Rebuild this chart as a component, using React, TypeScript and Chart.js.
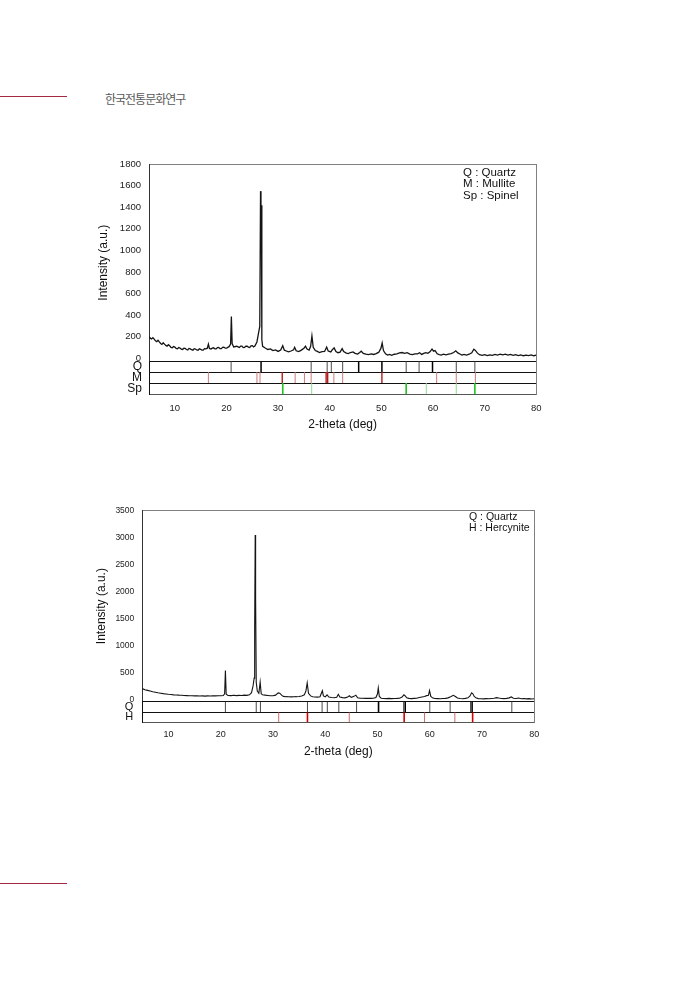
import React, { useEffect, useRef } from "react";
import { Chart, registerables } from "chart.js";

Chart.register(...registerables);

const FONT = "'Liberation Sans', Arial, Helvetica, sans-serif";
Chart.defaults.font.family = FONT;

// ---------- shared ----------
const xTicks = [10, 20, 30, 40, 50, 60, 70, 80];

// ---------- figure 1 ----------
const yTicks1 = [0, 200, 400, 600, 800, 1000, 1200, 1400, 1600, 1800];
const pattern1: [number, number][] = [
  [5, 200], [5.25, 185], [5.5, 178], [5.75, 190], [6, 176], [6.25, 160], [6.5, 152], [6.75, 165], [7, 150], [7.25, 136],
  [7.5, 128], [7.75, 142], [8, 130], [8.25, 118], [8.5, 110], [8.75, 124], [9, 114], [9.25, 100], [9.5, 96], [9.75, 108],
  [10, 102], [10.25, 90], [10.5, 86], [10.75, 98], [11, 94], [11.25, 84], [11.5, 80], [11.75, 92], [12, 90], [12.25, 80],
  [12.5, 76], [12.75, 90], [13, 86], [13.25, 78], [13.5, 74], [13.75, 88], [14, 84], [14.25, 76], [14.5, 72], [14.75, 86],
  [15, 82], [15.25, 74], [15.5, 74], [15.75, 88], [16, 86], [16.3, 92], [16.5, 130], [16.7, 90], [17, 84], [17.25, 92],
  [17.5, 96], [17.75, 86], [18, 86], [18.25, 98], [18.5, 100], [18.75, 88], [19, 88], [19.25, 100], [19.5, 102], [19.75, 92],
  [20, 92], [20.25, 100], [20.5, 106], [20.8, 130], [20.95, 385], [21.1, 135], [21.4, 104], [22, 110], [22.25, 104], [22.5, 98],
  [22.75, 112], [23, 112], [23.25, 98], [23.5, 100], [23.75, 110], [24, 110], [24.25, 102], [24.5, 98], [24.75, 114], [25, 116],
  [25.25, 104], [25.5, 112], [25.9, 150], [26.2, 230], [26.45, 295], [26.6, 1550], [26.68, 1300], [26.75, 1420], [26.85, 170], [27, 110],
  [27.5, 94], [28, 80], [28.5, 86], [29, 70], [29.5, 76], [30, 62], [30.5, 74], [30.9, 115], [31.2, 74], [31.6, 66],
  [32, 58], [32.5, 66], [33, 78], [33.2, 100], [33.5, 68], [34, 60], [34.5, 74], [35, 92], [35.3, 110], [35.6, 84],
  [36, 74], [36.3, 110], [36.55, 205], [36.8, 100], [37.2, 70], [37.6, 62], [38, 52], [38.5, 60], [39, 62], [39.4, 102],
  [39.7, 66], [40.2, 58], [40.5, 78], [40.85, 95], [41.2, 62], [41.6, 50], [42, 56], [42.4, 88], [42.7, 60], [43.2, 46],
  [43.6, 42], [44, 52], [44.5, 58], [44.9, 44], [45.4, 38], [45.8, 52], [46.1, 64], [46.5, 44], [47, 36], [47.5, 32],
  [48, 40], [48.5, 34], [49, 42], [49.5, 55], [49.9, 90], [50.15, 140], [50.4, 70], [50.8, 40], [51.2, 28], [51.6, 34],
  [52, 26], [52.5, 36], [53, 40], [53.5, 48], [54, 52], [54.5, 44], [55, 50], [55.5, 38], [56, 32], [56.5, 40],
  [57, 40], [57.4, 50], [57.8, 34], [58.2, 44], [58.6, 50], [59, 44], [59.4, 58], [59.8, 84], [60.1, 64], [60.4, 70],
  [60.8, 40], [61.2, 32], [61.6, 28], [62, 36], [62.5, 30], [63, 38], [63.5, 42], [64, 52], [64.4, 68], [64.8, 48],
  [65.2, 38], [65.6, 28], [66, 34], [66.5, 28], [67, 36], [67.5, 50], [67.9, 82], [68.2, 72], [68.6, 46], [69, 32],
  [69.5, 26], [70, 32], [70.5, 24], [71, 30], [71.5, 26], [72, 34], [72.5, 28], [73, 36], [73.5, 30], [74, 36],
  [74.5, 28], [75, 34], [75.5, 26], [76, 32], [76.5, 24], [77, 30], [77.5, 22], [78, 28], [78.5, 24], [79, 30],
  [79.5, 22], [80, 28],
];
const quartz1Thin = [20.9, 36.4, 39.5, 40.3, 42.5, 54.8, 57.3, 64.5, 68.1];
const quartz1Bold = [26.7, 45.6, 50.1, 59.9];
const mulliteThin = [16.5, 25.9, 26.5, 33.3, 35.1, 36.4, 40.8, 42.5, 60.7, 64.5, 68.2];
const mulliteBold = [30.8, 39.3, 39.6, 50.1];
const spinelBold = [30.9, 54.8, 68.1];
const spinelLight = [36.5, 58.7, 64.5];
const legend1 = ["Q : Quartz", "M : Mullite", "Sp : Spinel"];

// ---------- figure 2 ----------
const yTicks2 = [0, 500, 1000, 1500, 2000, 2500, 3000, 3500];
const pattern2: [number, number][] = [
  [5, 205], [5.5, 185], [6, 172], [6.5, 160], [7, 148], [7.5, 138], [8, 128], [8.5, 120], [9, 112], [9.5, 106],
  [10, 100], [10.5, 96], [11, 90], [11.5, 88], [12, 84], [12.5, 82], [13, 78], [13.5, 76], [14, 74], [14.5, 72],
  [15, 70], [15.5, 72], [16, 68], [16.5, 70], [17, 66], [17.5, 70], [18, 68], [18.5, 74], [19, 70], [19.5, 72],
  [20, 74], [20.5, 78], [20.75, 110], [20.9, 540], [21.05, 100], [21.4, 78], [22, 76], [22.5, 82], [23, 76], [23.5, 80],
  [24, 78], [24.5, 84], [25, 80], [25.5, 90], [25.9, 130], [26.2, 260], [26.4, 400], [26.5, 1330], [26.6, 3050], [26.68, 1900],
  [26.8, 320], [27, 160], [27.3, 120], [27.55, 325], [27.75, 110], [28, 90], [28.5, 84], [29, 78], [29.5, 72], [30, 74],
  [30.5, 84], [31, 125], [31.3, 120], [31.7, 80], [32, 62], [32.5, 56], [33, 54], [33.5, 52], [34, 54], [34.5, 56],
  [35, 60], [35.5, 68], [36, 90], [36.3, 160], [36.55, 310], [36.8, 120], [37.2, 70], [37.6, 55], [38, 50], [38.5, 48],
  [39, 54], [39.45, 165], [39.65, 70], [40, 52], [40.35, 90], [40.7, 50], [41.2, 40], [41.7, 36], [42.2, 46], [42.5, 100],
  [42.8, 50], [43.3, 38], [43.8, 34], [44.3, 48], [44.6, 72], [45, 44], [45.5, 62], [45.85, 84], [46.2, 36], [46.7, 28],
  [47.2, 26], [47.7, 24], [48.2, 28], [48.7, 24], [49.2, 26], [49.7, 40], [50, 110], [50.15, 220], [50.35, 60], [50.7, 28],
  [51.2, 22], [51.7, 20], [52.2, 24], [52.7, 20], [53.2, 22], [53.7, 24], [54.2, 28], [54.7, 48], [55.05, 90], [55.3, 70],
  [55.6, 34], [56, 24], [56.5, 20], [57, 24], [57.5, 28], [58, 40], [58.5, 50], [59, 58], [59.4, 75], [59.75, 80],
  [59.95, 170], [60.2, 60], [60.6, 30], [61, 22], [61.5, 20], [62, 18], [62.5, 22], [63, 24], [63.5, 34], [64, 56],
  [64.5, 80], [64.9, 60], [65.3, 32], [65.8, 22], [66.3, 18], [66.8, 24], [67.3, 34], [67.7, 70], [68, 128], [68.25, 110],
  [68.5, 60], [68.9, 30], [69.3, 20], [69.8, 18], [70.3, 16], [70.8, 20], [71.3, 18], [71.8, 22], [72.3, 26], [72.8, 38],
  [73.2, 30], [73.7, 22], [74.2, 20], [74.7, 24], [75.2, 34], [75.6, 52], [76, 26], [76.5, 22], [77, 30], [77.5, 18],
  [78, 22], [78.5, 16], [79, 20], [79.5, 14], [80, 18],
];
const quartz2Thin = [20.9, 26.8, 27.6, 36.6, 39.4, 40.4, 42.6, 46.0, 55.0, 60.0, 63.9, 67.8, 75.7];
const quartz2Bold = [50.2, 55.3, 68.1];
const hercyniteBold = [36.6, 55.1, 68.2];
const hercyniteThin = [31.1, 44.6, 59.0, 64.8];
const legend2 = ["Q : Quartz", "H : Hercynite"];

// ---------- chart builder ----------
type Group = { values: number[]; color: string; width: number };
type Strip = { id: string; label: string; weight: number; groups: Group[] };
type Spec = {
  pattern: [number, number][];
  lineWidth: number;
  yMin: number;
  yMax: number;
  yTicks: number[];
  yTickFont: number;
  xTickFont: number;
  mainWeight: number;
  strips: Strip[];
  axisWidth: number;
  padding: { left: number; right: number; top: number; bottom: number };
  xAxisHeight: number;
  xTickPad: number;
  xTitlePadBottom: number;
  yTitlePadTop: number;
  stripFont: number;
  stripPad: number;
};

function buildConfig(s: Spec): any {
  const fitW = (sc: any) => {
    sc.width = s.axisWidth;
  };
  const datasets: any[] = [
    {
      data: s.pattern.map(([x, y]) => ({ x, y })),
      xAxisID: "x",
      yAxisID: "y",
      borderColor: "#141414",
      borderWidth: s.lineWidth,
      pointRadius: 0,
      tension: 0,
    },
  ];
  const scales: any = {
    x: {
      type: "linear",
      position: "bottom",
      min: 5,
      max: 80,
      afterBuildTicks: (sc: any) => {
        sc.ticks = xTicks.map((v) => ({ value: v }));
      },
      afterFit: (sc: any) => {
        sc.height = s.xAxisHeight;
      },
      ticks: {
        callback: (v: any) => String(v),
        font: { size: s.xTickFont },
        color: "#222",
        padding: s.xTickPad,
        maxRotation: 0,
        autoSkip: false,
      },
      grid: { display: false, drawTicks: false },
      border: { display: true, color: "#555" },
      title: {
        display: true,
        text: "2-theta (deg)",
        font: { size: 12 },
        color: "#111",
        padding: { top: 0, bottom: s.xTitlePadBottom },
      },
    },
    xt: {
      type: "linear",
      position: "top",
      min: 5,
      max: 80,
      ticks: { display: false },
      grid: { display: false, drawTicks: false },
      border: { display: true, color: "#808080" },
      afterFit: (sc: any) => {
        sc.height = 0;
      },
    },
    yr: {
      type: "linear",
      position: "right",
      min: 0,
      max: 1,
      ticks: { display: false },
      grid: { display: false, drawTicks: false },
      border: { display: true, color: "#808080" },
      afterFit: (sc: any) => {
        sc.width = 0;
      },
    },
    y: {
      type: "linear",
      position: "left",
      stack: "st",
      stackWeight: s.mainWeight,
      weight: 10,
      min: s.yMin,
      max: s.yMax,
      afterBuildTicks: (sc: any) => {
        sc.ticks = s.yTicks.map((v) => ({ value: v }));
      },
      afterFit: fitW,
      ticks: {
        callback: (v: any) => String(v),
        font: { size: s.yTickFont },
        color: "#222",
        padding: 8,
        autoSkip: false,
      },
      grid: { display: false, drawTicks: false },
      border: { display: true, color: "#333" },
      title: {
        display: true,
        text: "Intensity (a.u.)",
        font: { size: 12 },
        color: "#111",
        padding: { top: s.yTitlePadTop, bottom: 0 },
      },
    },
  };
  s.strips.forEach((st, k) => {
    scales[st.id] = {
      type: "linear",
      position: "left",
      stack: "st",
      stackWeight: st.weight,
      weight: 9 - k,
      min: 0,
      max: 1,
      afterBuildTicks: (sc: any) => {
        sc.ticks = [0, 0.5, 1].map((v) => ({ value: v }));
      },
      afterFit: fitW,
      ticks: {
        callback: (v: any) => (v === 0.5 ? st.label : ""),
        font: { size: s.stripFont },
        color: "#111",
        padding: s.stripPad,
        autoSkip: false,
      },
      grid: {
        drawTicks: false,
        color: (c: any) => (c.tick && c.tick.value === 0.5 ? "rgba(0,0,0,0)" : "#111"),
        lineWidth: 1,
      },
      border: { display: true, color: "#111" },
    };
    st.groups.forEach((g) => {
      datasets.push({
        data: g.values.flatMap((v) => [
          { x: v, y: 0 },
          { x: v, y: 1 },
          { x: v, y: null },
        ]),
        xAxisID: "x",
        yAxisID: st.id,
        borderColor: g.color,
        borderWidth: g.width,
        pointRadius: 0,
        spanGaps: false,
        tension: 0,
      });
    });
  });

  return {
    type: "line",
    data: { datasets },
    options: {
      responsive: false,
      animation: false,
      events: [],
      layout: { padding: s.padding },
      plugins: { legend: { display: false }, tooltip: { enabled: false } },
      scales,
    },
  };
}

const spec1: Spec = {
  pattern: pattern1,
  lineWidth: 1.3,
  yMin: -28,
  yMax: 1800,
  yTicks: yTicks1,
  yTickFont: 9.5,
  xTickFont: 9.5,
  mainWeight: 197.7,
  strips: [
    {
      id: "q",
      label: "Q",
      weight: 11,
      groups: [
        { values: quartz1Thin, color: "#4a4a4a", width: 1 },
        { values: quartz1Bold, color: "#000000", width: 1.5 },
      ],
    },
    {
      id: "m",
      label: "M",
      weight: 11,
      groups: [
        { values: mulliteThin, color: "#cf7a7a", width: 1 },
        { values: mulliteBold, color: "#b01c1c", width: 1.4 },
      ],
    },
    {
      id: "sp",
      label: "Sp",
      weight: 11.3,
      groups: [
        { values: spinelLight, color: "#8fdc8f", width: 1 },
        { values: spinelBold, color: "#1fc41f", width: 1.6 },
      ],
    },
  ],
  axisWidth: 59,
  padding: { left: 0, right: 11, top: 13.3, bottom: 5.7 },
  xAxisHeight: 40,
  xTickPad: 8.4,
  xTitlePadBottom: 2,
  yTitlePadTop: 6,
  stripFont: 12,
  stripPad: 7,
};

const spec2: Spec = {
  pattern: pattern2,
  lineWidth: 1.1,
  yMin: -36,
  yMax: 3500,
  yTicks: yTicks2,
  yTickFont: 8.5,
  xTickFont: 9,
  mainWeight: 197,
  strips: [
    {
      id: "q",
      label: "Q",
      weight: 11,
      groups: [
        { values: quartz2Thin, color: "#4a4a4a", width: 1 },
        { values: quartz2Bold, color: "#000000", width: 1.6 },
      ],
    },
    {
      id: "h",
      label: "H",
      weight: 10.3,
      groups: [
        { values: hercyniteThin, color: "#d06a6a", width: 1 },
        { values: hercyniteBold, color: "#d00000", width: 1.6 },
      ],
    },
  ],
  axisWidth: 52.3,
  padding: { left: 0, right: 15.7, top: 9, bottom: 5 },
  xAxisHeight: 37.7,
  xTickPad: 6.6,
  xTitlePadBottom: 0.8,
  yTitlePadTop: 4.8,
  stripFont: 11,
  stripPad: 9,
};

function XrdChart(props: { spec: Spec; left: number; top: number; width: number; height: number }) {
  const ref = useRef<HTMLCanvasElement>(null);
  useEffect(() => {
    const chart = new Chart(ref.current as HTMLCanvasElement, buildConfig(props.spec));
    return () => chart.destroy();
  }, []);
  return (
    <canvas
      ref={ref}
      width={props.width}
      height={props.height}
      style={{ position: "absolute", left: props.left, top: props.top, width: props.width, height: props.height }}
    />
  );
}

function Legend(props: { lines: string[]; left: number; top: number; size: number; lh: number }) {
  return (
    <div
      style={{
        position: "absolute",
        left: props.left,
        top: props.top,
        fontFamily: FONT,
        fontSize: props.size,
        lineHeight: props.lh + "px",
        color: "#111",
        whiteSpace: "nowrap",
      }}
    >
      {props.lines.map((t) => (
        <div key={t}>{t}</div>
      ))}
    </div>
  );
}

export default function App() {
  return (
    <div style={{ position: "absolute", left: 0, top: 0, width: 689, height: 990, background: "#fff", overflow: "hidden" }}>
      <div style={{ position: "absolute", left: 0, top: 96, width: 67, height: 1, background: "#a32a40" }} />
      <div
        style={{
          position: "absolute",
          left: 105,
          top: 92,
          fontFamily: "'Noto Sans CJK KR', sans-serif",
          fontSize: 12,
          lineHeight: "14px",
          letterSpacing: "-1px",
          color: "#5a5a5a",
          whiteSpace: "nowrap",
        }}
      >
        한국전통문화연구
      </div>
      <div style={{ position: "absolute", left: 0, top: 883, width: 67, height: 1, background: "#a32a40" }} />

      <XrdChart spec={spec1} left={90} top={150} width={460} height={290} />
      <Legend lines={legend1} left={463} top={166.6} size={11.5} lh={11.7} />

      <XrdChart spec={spec2} left={90} top={495} width={460} height={270} />
      <Legend lines={legend2} left={469} top={510.9} size={10.5} lh={11.6} />
    </div>
  );
}
